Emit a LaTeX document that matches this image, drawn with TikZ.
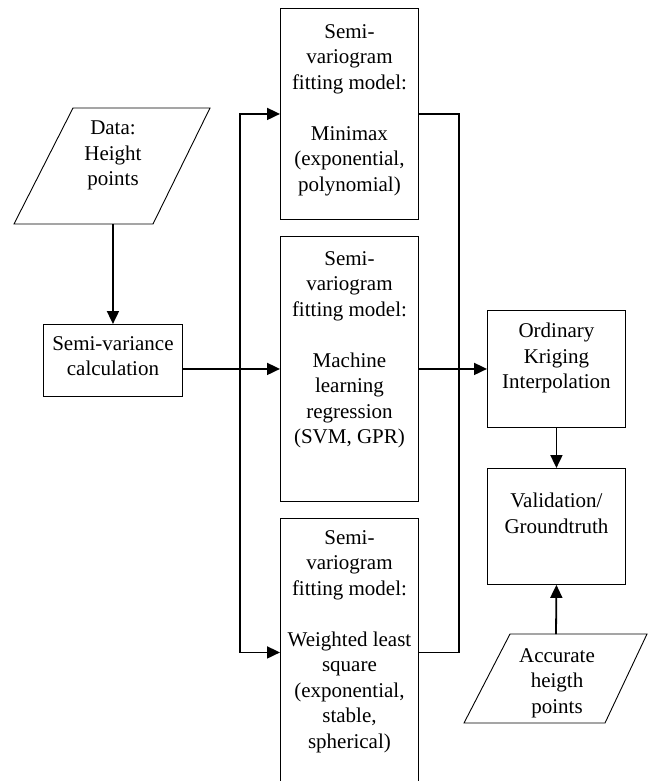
\documentclass[tikz,border=0pt]{standalone}
\usepackage{fontspec}
\setmainfont{Liberation Serif}
\usetikzlibrary{positioning,arrows.meta}

\begin{document}
\begin{tikzpicture}[
			x=1pt, y=-1pt,
			box/.style={draw, line width=0.9pt, inner sep=0pt},
			txt/.style={align=center, inner sep=0pt, font=\fontsize{21}{25.5}\selectfont},
			link/.style={line width=1.8pt, -{Triangle[length=13pt,width=12pt]}},
			wire/.style={line width=1.8pt}
			]
			\useasboundingbox (0,0) rectangle (653,781);
			% input data
			\draw[box] (14,224) -- (73,108) -- (210,108) -- (153,224) -- cycle;
			\node[txt, anchor=north] (data) at (113,121) {Data:\\Height\\points};
			\coordinate (datab) at (113,224);
			\node[box, minimum width=139pt, minimum height=72pt, anchor=north west] (sv) at (43,324) {};
			\node[txt, below=12pt of sv.north] (svtxt) {Semi-variance\\calculation};
			% fitting models
			\node[box, minimum width=138pt, minimum height=211pt, anchor=north west] (mm) at (280,8) {};
			\node[txt, below=16pt of mm.north] (mmtxt) {Semi-\\variogram\\fitting model:\\[25.5pt]Minimax\\(exponential,\\polynomial)};
			\node[box, minimum width=138pt, minimum height=265pt, anchor=north west] (ml) at (280,236) {};
			\node[txt, below=15pt of ml.north] (mltxt) {Semi-\\variogram\\fitting model:\\[25.5pt]Machine\\learning\\regression\\(SVM, GPR)};
			\node[box, minimum width=138pt, minimum height=268pt, anchor=north west] (wls) at (280,518) {};
			\node[txt, below=12pt of wls.north] (wlstxt) {Semi-\\variogram\\fitting model:\\[25.5pt]Weighted least\\square\\(exponential,\\stable,\\spherical)};
			% kriging and validation
			\node[box, minimum width=138pt, minimum height=117pt, anchor=north west] (ok) at (487,310) {};
			\node[txt, below=13pt of ok.north] (oktxt) {Ordinary\\Kriging\\Interpolation};
			\node[box, minimum width=138pt, minimum height=116pt, anchor=north west] (val) at (487,468) {};
			\node[txt, below=25pt of val.north] (valtxt) {Validation/\\Groundtruth};
			\draw[box] (464,723) -- (510,634) -- (647,634) -- (605,723) -- cycle;
			\node[txt, anchor=north] (acc) at (557,648) {Accurate\\heigth\\points};
			\coordinate (acct) at (556,634);
			% connectors
			\coordinate (lspine) at (240,368);
			\coordinate (rspine) at (459,369);
			\draw[link] (datab) -- (sv.north);
			\draw[link] (sv.east |- ml.west) -- (ml.west);
			\draw[link] (lspine) |- (mm.west);
			\draw[link] (lspine) |- (wls.west);
			\draw[wire] (mm.east) -| (rspine);
			\draw[wire] (wls.east) -| (rspine);
			\draw[link] (ml.east) -- (ok.west);
			\draw[link] (ok.south) -- (val.north);
			\draw[link] (acct) -- (val.south);
		\end{tikzpicture}
\end{document}
